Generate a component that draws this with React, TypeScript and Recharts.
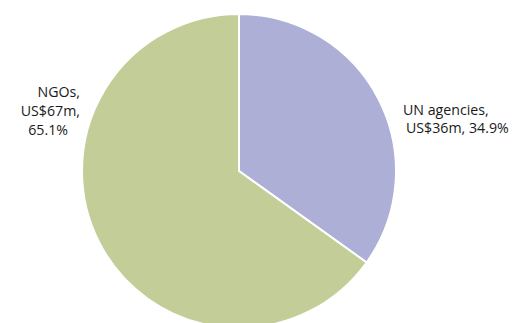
import React from 'react';
import { PieChart, Pie, Cell } from 'recharts';

const categories = ['UN agencies', 'NGOs'];
const amounts = ['US$36m', 'US$67m'];
const shares = [34.9, 65.1];
const colors = ['#aeafd7', '#c3cd98'];

// label text, line by line, as in the source figure
const labelLines = [
  [`${categories[0]},`, `${amounts[0]}, ${shares[0]}%`],
  [`${categories[1]},`, `${amounts[1]},`, `${shares[1]}%`],
];

const chartData = categories.map((name, i) => ({ name, value: shares[i] }));

const FONT = "'Open Sans', sans-serif";

const renderLabel = (props: any) => {
  const { cx, cy, outerRadius, midAngle, index } = props;
  const lines = labelLines[index];
  const rightSide = Math.cos((midAngle * Math.PI) / 180) > 0;
  if (rightSide) {
    const x = cx + outerRadius + 7;
    const y = cy - 56;
    return (
      <text x={x} y={y} fill="#1a1a1a" fontSize={14.2} fontFamily={FONT} textAnchor="start">
        {lines.map((l, i) => (
          <tspan key={i} x={i === 0 ? x : x + 3} dy={i === 0 ? 0 : 18}>
            {l}
          </tspan>
        ))}
      </text>
    );
  }
  const x = cx - outerRadius - 2;
  const y = cy - 74;
  return (
    <text x={x} y={y} fill="#1a1a1a" fontSize={14.2} fontFamily={FONT} textAnchor="end">
      {lines.map((l, i) => (
        <tspan key={i} x={i === 2 ? x - 12 : x} dy={i === 0 ? 0 : 19}>
          {l}
        </tspan>
      ))}
    </text>
  );
};

export default function App() {
  return (
    <div style={{ position: 'absolute', left: 0, top: 0, width: 519, height: 323, background: '#fff', overflow: 'hidden' }}>
      <PieChart width={519} height={335} margin={{ top: 0, right: 0, bottom: 0, left: 0 }}>
        <Pie
          data={chartData}
          dataKey="value"
          nameKey="name"
          cx={239}
          cy={171}
          outerRadius={157}
          startAngle={90}
          endAngle={-270}
          stroke="#ffffff"
          strokeWidth={2}
          label={renderLabel}
          labelLine={false}
          isAnimationActive={false}
        >
          {chartData.map((d, i) => (
            <Cell key={d.name} fill={colors[i]} />
          ))}
        </Pie>
      </PieChart>
    </div>
  );
}
